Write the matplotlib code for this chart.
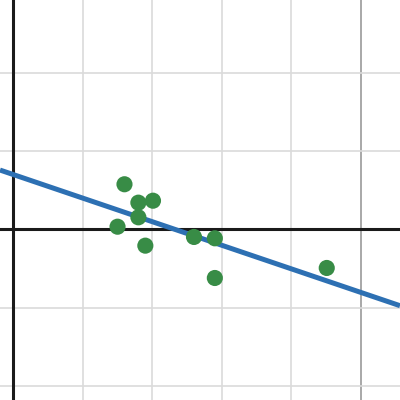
import matplotlib
matplotlib.use("Agg")
import matplotlib.pyplot as plt
import numpy as np

# scatter points
x_pts = [1.60, 1.80, 2.01, 1.80, 1.50, 1.90, 2.60, 2.90, 2.90, 4.51]
y_pts = [0.575, 0.34, 0.365, 0.153, 0.033, -0.209, -0.098, -0.115, -0.622, -0.494]

# fitted line
slope, intercept = -0.301, 0.699

xlim = (-0.191, 5.564)
ylim = (-2.18, 2.928)

fig = plt.figure(figsize=(4, 4), dpi=100)
ax = fig.add_axes([0, 0, 1, 1])
ax.set_xlim(*xlim)
ax.set_ylim(*ylim)
for s in ax.spines.values():
    s.set_visible(False)
ax.set_xticks([])
ax.set_yticks([])

# grid
for gx in [1, 2, 3, 4]:
    ax.axvline(gx, color="#dadada", lw=1.2, zorder=1)
ax.axvline(5, color="#999999", lw=1.2, zorder=1)
for gy in [-2, -1, 1, 2]:
    ax.axhline(gy, color="#dadada", lw=1.2, zorder=1)

# axes
ax.axhline(0, color="#1a1a1a", lw=2.2, zorder=2)
ax.axvline(0, color="#1a1a1a", lw=2.2, zorder=2)

xs = np.array(xlim)
ax.plot(xs, slope * xs + intercept, color="#2d70b3", lw=3.6, zorder=3,
        solid_capstyle="butt")
ax.scatter(x_pts, y_pts, s=135, color="#388c46", edgecolors="none", zorder=4)

fig.savefig("out.png", dpi=100)
